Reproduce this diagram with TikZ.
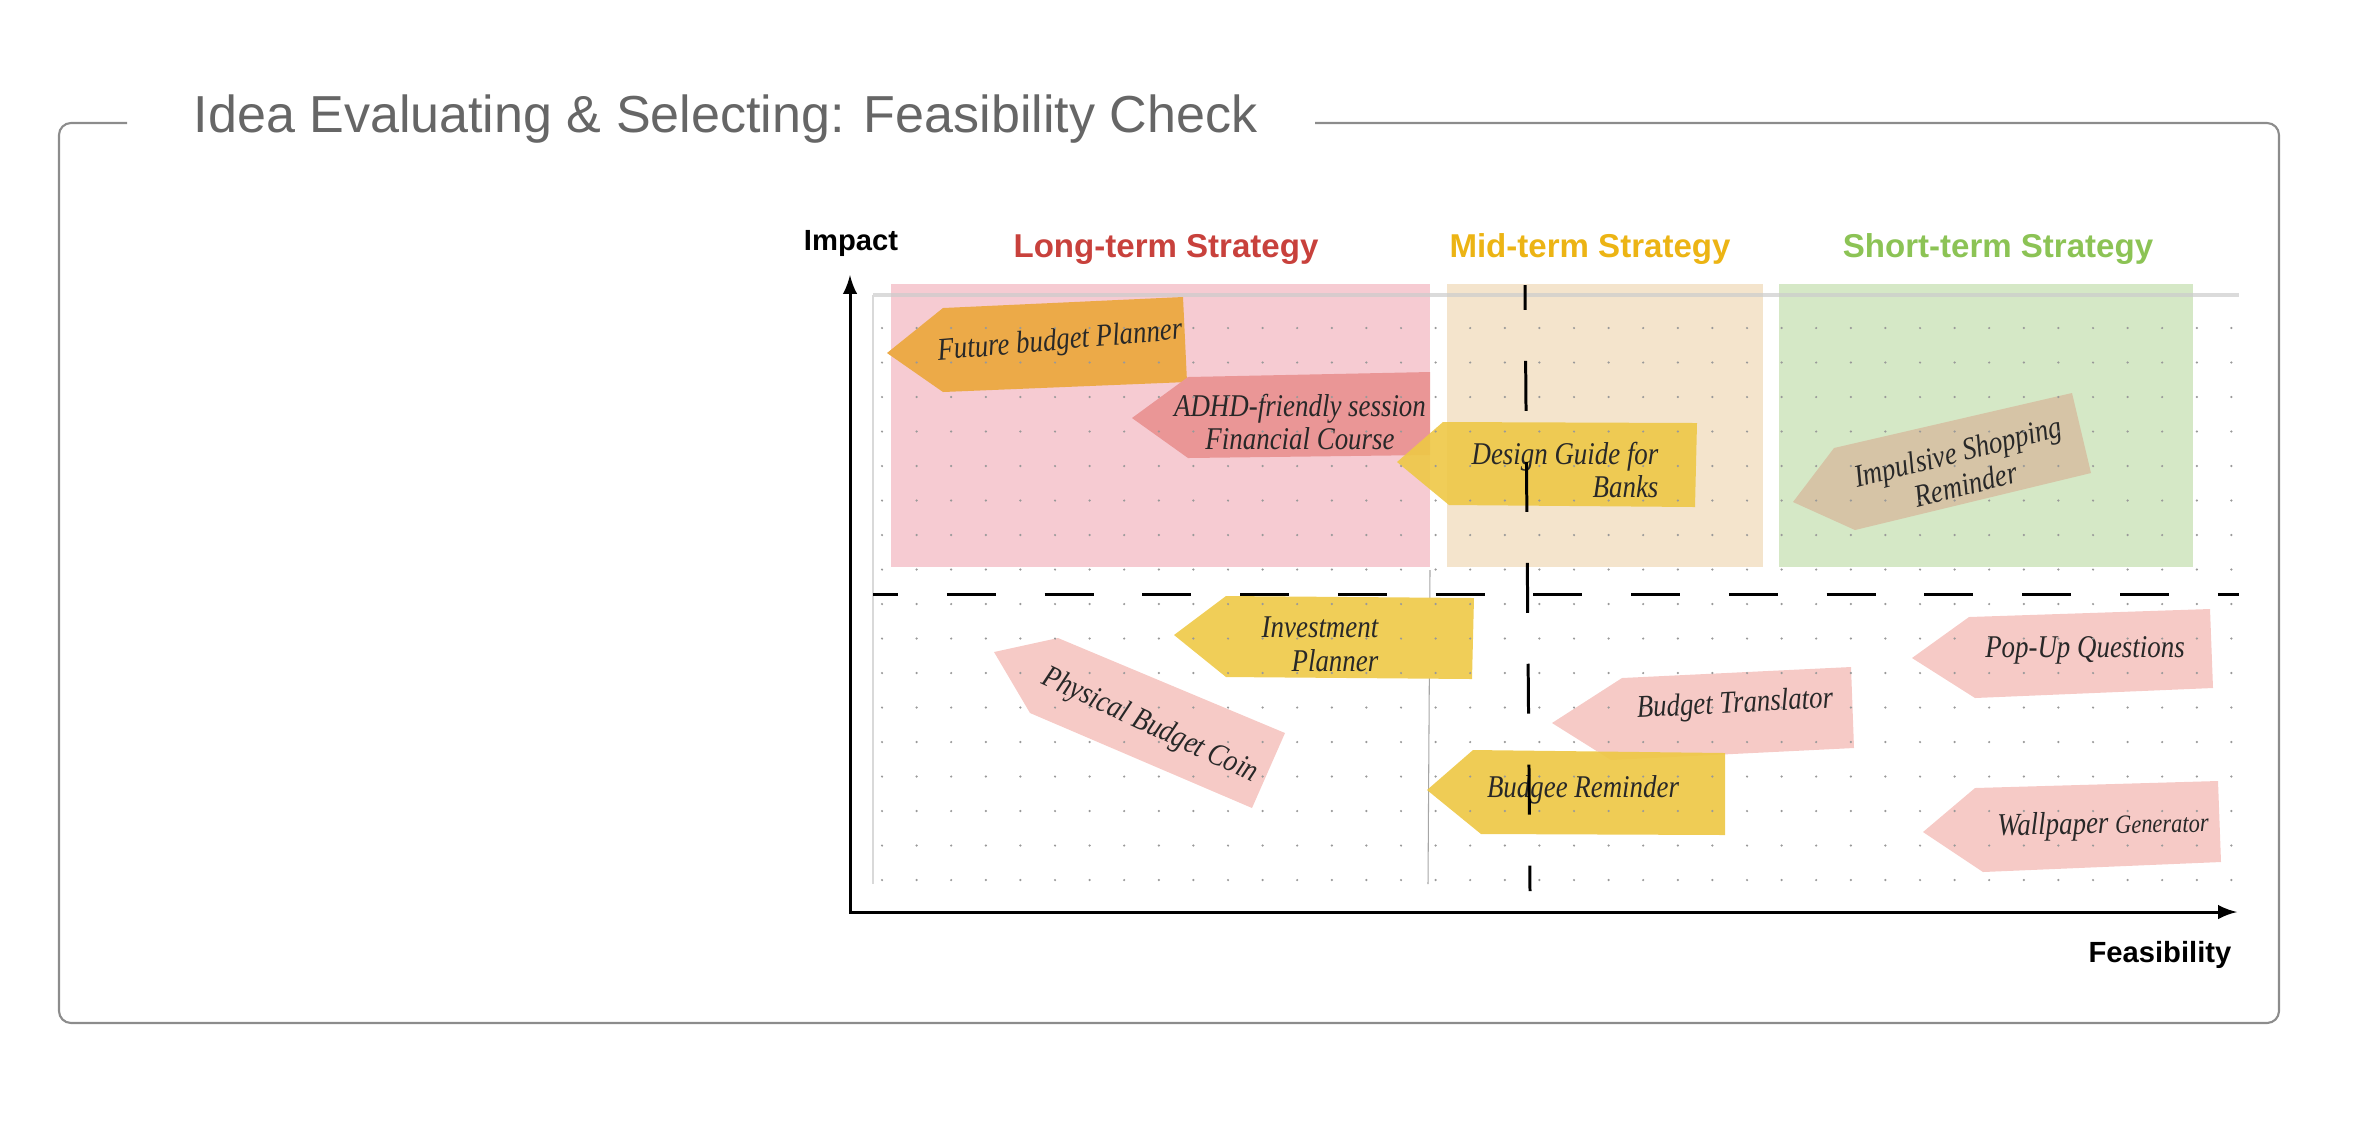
\documentclass[tikz,border=0pt]{standalone}
\usepackage{fontspec}
\setmainfont{Liberation Sans}
\newfontfamily\handfont[FakeStretch=0.85]{Liberation Serif}
\usetikzlibrary{positioning}

\definecolor{titlegray}{RGB}{102,102,102}
\definecolor{framegray}{RGB}{140,140,140}
\definecolor{longred}{RGB}{200,65,60}
\definecolor{midgold}{RGB}{236,180,20}
\definecolor{shortgreen}{RGB}{140,195,85}
\definecolor{longzone}{RGB}{246,203,210}
\definecolor{midzone}{RGB}{244,228,204}
\definecolor{shortzone}{RGB}{213,232,198}
\definecolor{noteorange}{RGB}{236,170,72}
\definecolor{noterose}{RGB}{234,150,150}
\definecolor{noteyellow}{RGB}{238,200,70}
\definecolor{notetan}{RGB}{214,196,166}
\definecolor{notepink}{RGB}{246,202,198}
\definecolor{inkgray}{RGB}{40,40,40}

\tikzset{
  heading/.style={font=\fontsize{9.4}{11}\selectfont\bfseries, anchor=base, inner sep=0pt},
  axislabel/.style={font=\fontsize{8.3}{10}\selectfont\bfseries, anchor=base, inner sep=0pt},
  hand/.style={font=\fontsize{9}{9.6}\selectfont\handfont\itshape, text=inkgray, inner sep=0pt},
  axis/.style={line width=0.85pt, black},
  split/.style={line width=0.85pt, black}
}

\begin{document}
\begin{tikzpicture}[x=0.01cm, y=-0.01cm]
\useasboundingbox (0,0) rectangle (2369,1144);

% frame and title
\draw[framegray, line width=0.6pt, rounded corners=0.12cm]
  (127,123) -- (59,123) -- (59,1023) -- (2279,1023) -- (2279,123) -- (1315,123);
\node[anchor=base west, inner sep=0pt, text=titlegray, font=\fontsize{14.8}{17}\selectfont]
  (title) at (193,132) {Idea Evaluating \& Selecting: Feasibility Check};

% strategy zones
\fill[longzone] (891,284) rectangle (1430,567);
\fill[midzone] (1447,284) rectangle (1763,567);
\fill[shortzone] (1779,284) rectangle (2193,567);
\node[heading, text=longred] (longterm) at (1166,257) {Long-term Strategy};
\node[heading, text=midgold] (midterm) at (1590,257) {Mid-term Strategy};
\node[heading, text=shortgreen] (shortterm) at (1998,257) {Short-term Strategy};

% paper edges
\draw[black!20, line width=1.1pt, opacity=0.7] (873,295) -- (2239,295);
\draw[black!15, line width=0.3pt] (873,295) -- (873,884);
\draw[black!35, line width=0.3pt] (1430,570) -- (1428,884);

% sticky notes
\fill[noteorange] (887,353) -- (943,308) -- (1183,297) -- (1187,382) -- (943,392) -- cycle;
\node[hand, rotate=5] (future) at (1060,342) {Future budget Planner};

\fill[noterose] (1132,418) -- (1188,377) -- (1430,372) -- (1430,455) -- (1188,458) -- cycle;
\node[hand, align=center] (adhd) at (1300,422) {ADHD-friendly session\\Financial Course};

\fill[noteyellow, fill opacity=0.9] (1397,462) -- (1443,422) -- (1697,423) -- (1695,507) -- (1449,505) -- cycle;
\node[hand, align=right] (design) at (1565,470) {Design Guide for\\Banks};

\fill[notetan] (1793,502) -- (1834,448) -- (2072,393) -- (2091,473) -- (1855,530) -- cycle;
\node[hand, align=center, rotate=14] (impulsive) at (1962,468) {Impulsive Shopping\\Reminder};

\fill[noteyellow!90!white] (1174,635) -- (1226,596) -- (1474,598) -- (1472,679) -- (1226,677) -- cycle;
\node[hand, align=right] (invest) at (1320,644) {Investment\\Planner};

\fill[notepink] (994,652) -- (1058,638) -- (1285,733) -- (1252,808) -- (1030,713) -- cycle;
\node[hand, rotate=-25] (coin) at (1150,726) {Physical Budget Coin};

\fill[notepink] (1552,723) -- (1622,678) -- (1851,667) -- (1854,748) -- (1611,760) -- cycle;
\node[hand, rotate=3] (translator) at (1735,705) {Budget Translator};

\fill[noteyellow, fill opacity=0.92] (1427,790) -- (1473,750) -- (1725,753) -- (1725,835) -- (1481,834) -- cycle;
\node[hand] (reminder) at (1583,790) {Budgee Reminder};

\fill[notepink] (1912,658) -- (1969,617) -- (2210,609) -- (2213,688) -- (1975,698) -- cycle;
\node[hand] (popup) at (2085,650) {Pop-Up Questions};

\fill[notepink] (1923,832) -- (1975,788) -- (2218,781) -- (2221,862) -- (1983,872) -- cycle;
\node[hand, rotate=1] (wallpaper) at (2103,826) {Wallpaper {\fontsize{7.5}{9}\selectfont Generator}};

% dot grid
\foreach \i in {0,...,39}
  \foreach \j in {0,...,16}
    \fill[black!40] (882+34.6*\i, 328+34.5*\j) circle (0.35pt);

% quadrant split
\draw[split, dash pattern=on 13.9pt off 13.9pt, dash phase=6.8pt] (873,594) -- (2239,594);
\draw[split, dash pattern=on 14.2pt off 14.5pt, dash phase=7.1pt] (1525,285) -- (1530,891);

% axes
\coordinate (origin) at (850,912);
\coordinate (ytop) at (850,275);
\coordinate (xend) at (2237,912);
\draw[axis, latex-latex] (ytop) -- (origin) -- (xend);
\node[axislabel] (impact) at (851,250) {Impact};
\node[axislabel, anchor=base east] (feasibility) at (2232,962) {Feasibility};
\end{tikzpicture}
\end{document}
